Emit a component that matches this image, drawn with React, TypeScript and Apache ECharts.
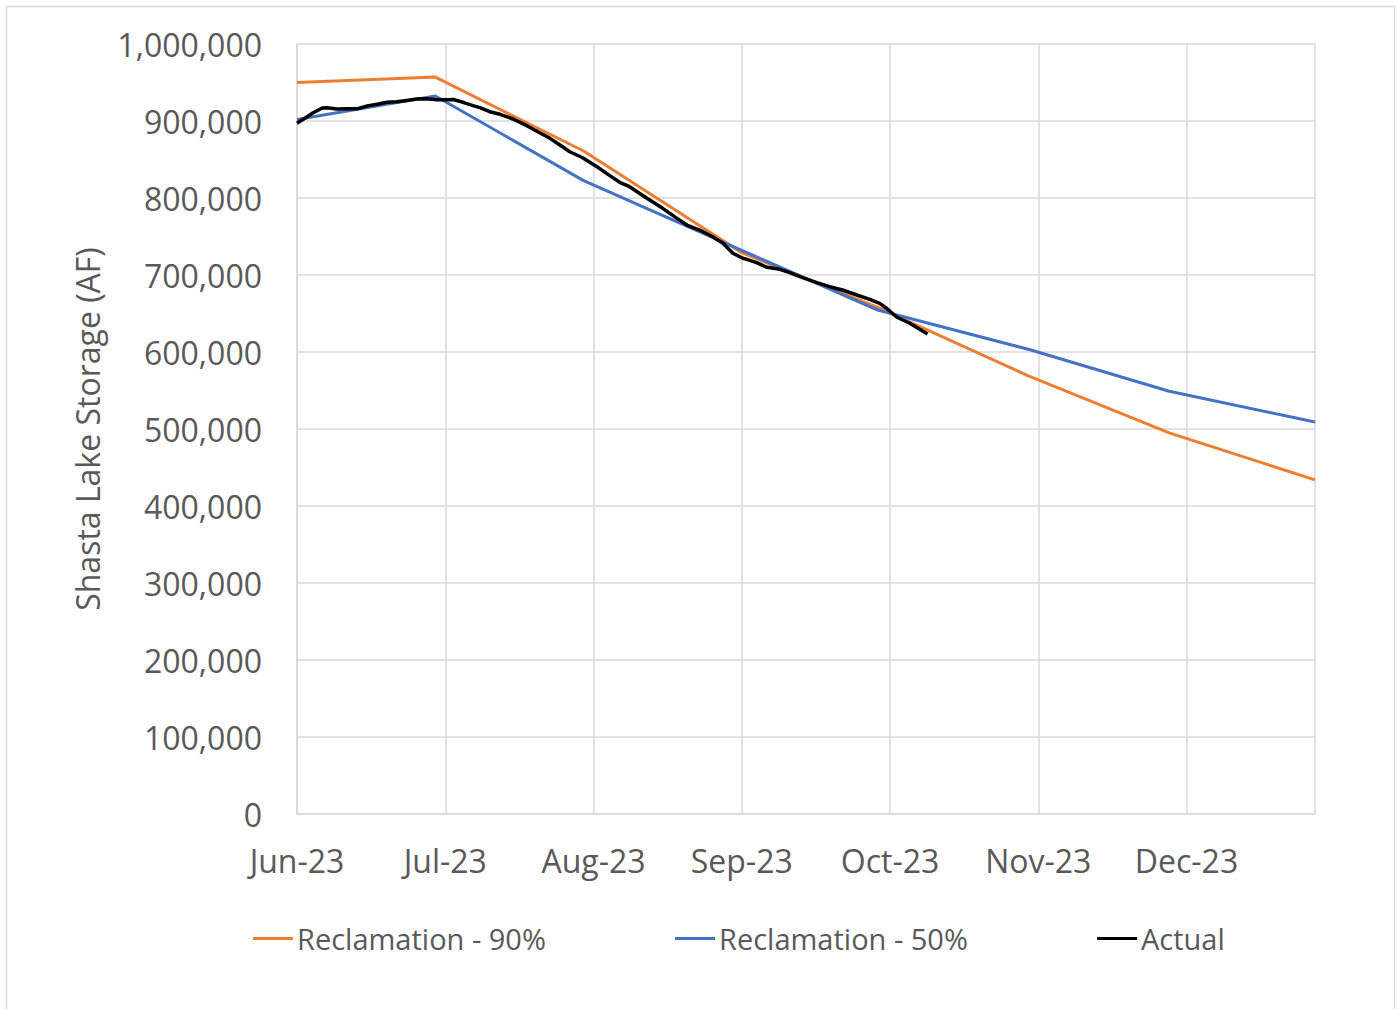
import React, { useEffect, useRef } from "react";
import * as echarts from "echarts";

// x values are days from the axis start (Jun-23); ticks every 30 days
const monthLabels = ["Jun-23", "Jul-23", "Aug-23", "Sep-23", "Oct-23", "Nov-23", "Dec-23"];
const xMax = 206;
const xInterval = 30;

const projDays = [0, 28, 58, 90, 117.5, 148, 176.5, 206];
const rec90 = [950000, 957000, 861000, 729000, 658000, 569000, 495000, 434000];
const rec50 = [902000, 932500, 822500, 732000, 654500, 603500, 549000, 509000];

const actualDays = [
  0, 1.6, 3.2, 5.1, 6.1, 8.1, 10.1, 12.3, 14.2, 16.2, 18.2, 20.2, 21.8, 24.3, 26.3, 28.3, 30.3, 31.6,
  33.6, 35.6, 37, 39, 41.1, 43.7, 46.5, 49.1, 51.2, 53.2, 55.2, 57.8, 60.7, 63.3, 65.3, 67.3, 70.8, 74,
  76.9, 78.9, 81.5, 84.1, 86.2, 88.2, 90.2, 91, 93, 95.1, 97.7, 99.7, 102.3, 105.2, 107.8, 110.4, 113.3,
  115.9, 117.9, 119.3, 121.4, 124, 126, 127.6,
];
const actualValues = [
  897000, 903500, 910400, 916900, 917300, 915600, 916000, 916000, 919500, 921700, 924300, 925100,
  926400, 928600, 929000, 927700, 927700, 927900, 924300, 919900, 917300, 912100, 908700, 902600,
  893900, 884800, 877500, 868800, 860100, 852300, 840600, 829000, 820400, 814700, 799600, 786600,
  773600, 764900, 758400, 749700, 741200, 728200, 721700, 720400, 716000, 710000, 707400, 703000,
  696500, 690000, 684800, 680500, 674000, 668400, 663200, 656800, 645100, 637300, 629500, 623400,
];

const seriesNames = ["Reclamation - 90%", "Reclamation - 50%", "Actual"];
const seriesColors = ["#ED7D31", "#4472C4", "#000000"];

const FONT = "Open Sans";
const TEXT = "#595959";
const GRID = "#D9D9D9";

export default function App() {
  const ref = useRef<HTMLDivElement>(null);
  useEffect(() => {
    document.body.style.margin = "0";
    const chart = echarts.init(ref.current!, null, { renderer: "svg" });
    const zip = (xs: number[], ys: number[]) => xs.map((x, i) => [x, ys[i]]);
    const legendLefts = [253, 675, 1097];
    chart.setOption({
      animation: false,
      backgroundColor: "#ffffff",
      textStyle: { fontFamily: FONT },
      graphic: [
        {
          type: "rect",
          shape: { x: 6.5, y: 6.5, width: 1388, height: 1020 },
          style: { fill: "none", stroke: GRID, lineWidth: 1.5 },
          silent: true,
        },
      ],
      grid: { left: 297, top: 44, right: 82, bottom: 195, containLabel: false },
      legend: seriesNames.map((n, i) => ({
        data: [n],
        left: legendLefts[i],
        top: 924,
        padding: 0,
        icon: "rect",
        itemWidth: 40,
        itemHeight: 3,
        itemGap: 0,
        textStyle: { fontFamily: FONT, fontSize: 29, color: TEXT, padding: [0, 0, 0, -1] },
      })),
      xAxis: {
        type: "value",
        min: 0,
        max: xMax,
        interval: xInterval,
        axisLine: { show: true, lineStyle: { color: GRID, width: 1.5 } },
        axisTick: { show: false },
        splitLine: { show: true, lineStyle: { color: GRID, width: 1.5 } },
        axisLabel: {
          fontFamily: FONT,
          fontSize: 32,
          color: TEXT,
          margin: 30,
          formatter: (v: number) => {
            const idx = Math.round(v / xInterval);
            return Math.abs(v - idx * xInterval) < 1e-6 ? monthLabels[idx] ?? "" : "";
          },
        },
      },
      yAxis: {
        type: "value",
        min: 0,
        max: 1000000,
        interval: 100000,
        name: "Shasta Lake Storage (AF)",
        nameLocation: "middle",
        nameRotate: 90,
        nameGap: 194,
        nameTextStyle: { fontFamily: FONT, fontSize: 32, color: TEXT },
        axisLine: { show: true, lineStyle: { color: GRID, width: 1.5 } },
        axisTick: { show: false },
        splitLine: { show: true, lineStyle: { color: GRID, width: 1.5 } },
        axisLabel: {
          fontFamily: FONT,
          fontSize: 32,
          color: TEXT,
          margin: 35,
          formatter: (v: number) => v.toLocaleString("en-US"),
        },
      },
      series: [
        {
          name: seriesNames[0],
          type: "line",
          data: zip(projDays, rec90),
          symbol: "none",
          lineStyle: { color: seriesColors[0], width: 3 },
          itemStyle: { color: seriesColors[0] },
          z: 2,
        },
        {
          name: seriesNames[1],
          type: "line",
          data: zip(projDays, rec50),
          symbol: "none",
          lineStyle: { color: seriesColors[1], width: 3 },
          itemStyle: { color: seriesColors[1] },
          z: 3,
        },
        {
          name: seriesNames[2],
          type: "line",
          data: zip(actualDays, actualValues),
          symbol: "none",
          lineStyle: { color: seriesColors[2], width: 3.5 },
          itemStyle: { color: seriesColors[2] },
          z: 4,
        },
      ],
    });
    return () => chart.dispose();
  }, []);
  return (
    <div
      ref={ref}
      style={{ position: "fixed", left: 0, top: 0, width: 1397, height: 1009 }}
    />
  );
}
